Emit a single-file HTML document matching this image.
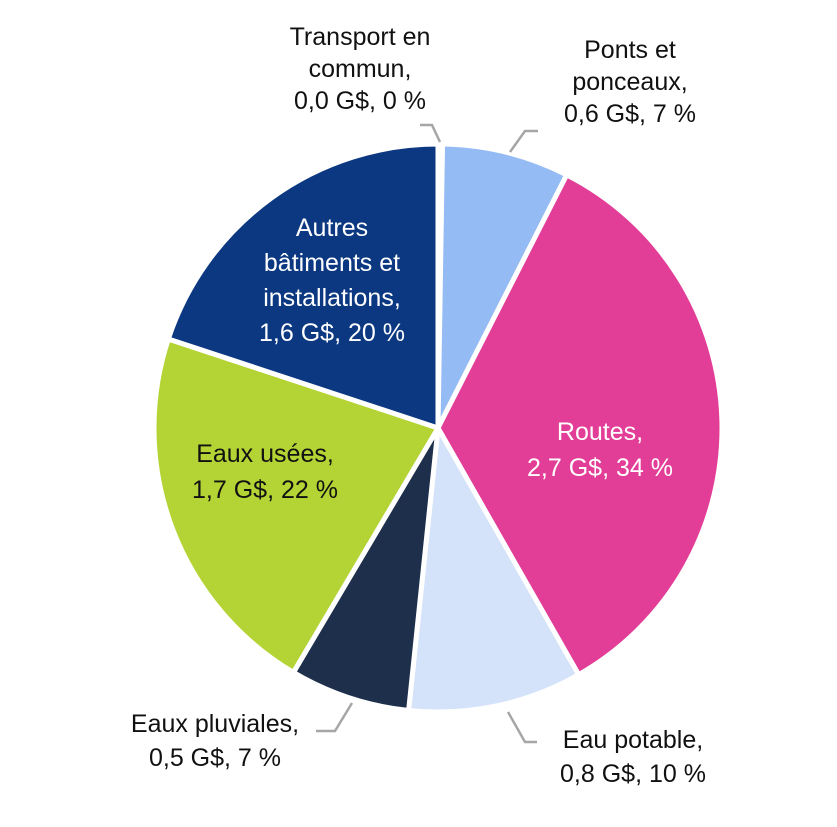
<!DOCTYPE html>
<html><head><meta charset="utf-8"><style>
body{margin:0;background:#fff;}
svg{display:block;font-family:"Liberation Sans",sans-serif;}
text{font-size:25px;}
</style></head><body>
<svg id="chart" width="837" height="827">
<g id="slices"></g>
<g id="labels">
<text x="360" y="45" text-anchor="middle" fill="#111"><tspan x="360">Transport en</tspan><tspan x="360" dy="32">commun,</tspan><tspan x="360" dy="32">0,0 G$, 0 %</tspan></text>
<text x="630" y="58" text-anchor="middle" fill="#111"><tspan x="630">Ponts et</tspan><tspan x="630" dy="32">ponceaux,</tspan><tspan x="630" dy="32">0,6 G$, 7 %</tspan></text>
<text x="600" y="440" text-anchor="middle" fill="#fff"><tspan x="600">Routes,</tspan><tspan x="600" dy="36">2,7 G$, 34 %</tspan></text>
<text x="633" y="748" text-anchor="middle" fill="#111"><tspan x="633">Eau potable,</tspan><tspan x="633" dy="34">0,8 G$, 10 %</tspan></text>
<text x="215" y="732" text-anchor="middle" fill="#111"><tspan x="215">Eaux pluviales,</tspan><tspan x="215" dy="34">0,5 G$, 7 %</tspan></text>
<text x="265" y="462" text-anchor="middle" fill="#111"><tspan x="265">Eaux usées,</tspan><tspan x="265" dy="36">1,7 G$, 22 %</tspan></text>
<text x="332" y="236" text-anchor="middle" fill="#fff"><tspan x="332">Autres</tspan><tspan x="332" dy="35">bâtiments et</tspan><tspan x="332" dy="35">installations,</tspan><tspan x="332" dy="35">1,6 G$, 20 %</tspan></text>
</g>
<g stroke="#a6a6a6" stroke-width="2.5" fill="none">
<polyline points="420,125 432,125 440,142"/>
<polyline points="538,131 525,131 510,152"/>
<polyline points="537,742 525,742 508,712"/>
<polyline points="316,731 335,731 352,703"/>
</g>
</svg>
<script>
const categories=["Transport en commun","Ponts et ponceaux","Routes","Eau potable","Eaux pluviales","Eaux usées","Autres bâtiments et installations"];
const values=[0.02,0.57,2.70,0.78,0.54,1.70,1.57];
const colors=["#f2f2f2","#95bbf4","#e23d97","#d4e3f9","#1d2f4b","#b4d335","#0b3881"];
const cx=438,cy=428,r=284;
const total=values.reduce((a,b)=>a+b,0);
const g=document.getElementById('slices');
let a=0;
function pt(ang){const t=ang*Math.PI/180;return [cx+r*Math.sin(t),cy-r*Math.cos(t)];}
values.forEach((v,i)=>{
 const da=v/total*360;const p1=pt(a),p2=pt(a+da);
 const p=document.createElementNS('http://www.w3.org/2000/svg','path');
 p.setAttribute('d',`M${cx},${cy}L${p1[0]},${p1[1]}A${r},${r} 0 ${da>180?1:0} 1 ${p2[0]},${p2[1]}Z`);
 p.setAttribute('fill',colors[i]);p.setAttribute('stroke','#fff');p.setAttribute('stroke-width','5');p.setAttribute('stroke-linejoin','round');
 
 
 g.appendChild(p);a+=da;
});
</script>
</body></html>
